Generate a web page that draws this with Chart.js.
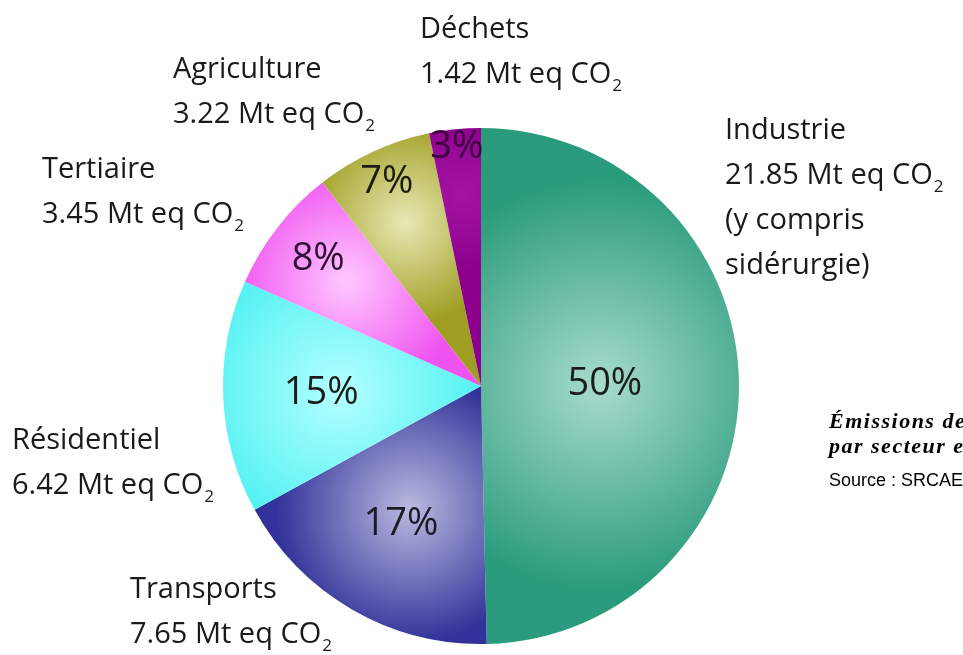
<!DOCTYPE html>
<html><head><meta charset="utf-8">
<style>html,body{margin:0;padding:0;background:#fff}#wrap{width:963px;height:655px;position:relative;overflow:hidden}</style>
</head><body><div id="wrap"><canvas id="c" width="963" height="655"></canvas></div>
<script src="https://cdn.jsdelivr.net/npm/chart.js@4.4.1/dist/chart.umd.min.js"></script>
<script>
// ---- data ----
const categories = ['Industrie', 'Transports', 'Résidentiel', 'Tertiaire', 'Agriculture', 'Déchets'];
const emissions = [21.85, 7.65, 6.42, 3.45, 3.22, 1.42];
const percentLabels = ['50%', '17%', '15%', '8%', '7%', '3%'];
const valueLabels = ['21.85', '7.65', '6.42', '3.45', '3.22', '1.42'];
const unitText = 'Mt eq CO';
const unitSub = '2';
const extraLines = [['(y compris', 'sidérurgie)'], [], [], [], [], []];
const captionLines = ['Émissions de', 'par secteur e'];
const sourceText = 'Source : SRCAE';

// ---- styles ----
const edgeColors  = ['#2a9b7c', '#32329a', '#40eff0', '#f052f0', '#9e9e22', '#8c008c'];
const lightColors = ['#a8dccc', '#babae0', '#b4ffff', '#ffc8ff', '#e8e8b4', '#a414a4'];
const highlightFrac = [0.46, 0.55, 0.55, 0.66, 0.70, 0.75];
const gradRadiusFrac = [0.80, 0.52, 0.66, 0.45, 0.40, 0.30];
const pctRadiusFrac = [0.48, 0.62, 0.62, 0.80, 0.87, 0.93];
const pctColors = ['#1c1c1c', '#1c1c28', '#1c1c1c', '#2e0f36', '#1c1c10', '#3c003c'];
// outside label anchors (left x, first baseline)
const labelPos = [[725, 139], [130, 598], [12, 449], [42, 178], [173, 78], [420, 38]];
const lineGap = 45;

const total = emissions.reduce((a, b) => a + b, 0);

function sliceGradient(c) {
  const i = c.dataIndex;
  const chart = c.chart;
  const ca = chart.chartArea;
  if (!ca || i === undefined) return edgeColors[i] || '#ccc';
  const cx = (ca.left + ca.right) / 2, cy = (ca.top + ca.bottom) / 2;
  const r = Math.min(ca.width, ca.height) / 2;
  let before = 0;
  for (let k = 0; k < i; k++) before += emissions[k];
  const a0 = -Math.PI / 2 + before / total * 2 * Math.PI;
  const a1 = a0 + emissions[i] / total * 2 * Math.PI;
  const mid = (a0 + a1) / 2;
  const hx = cx + Math.cos(mid) * r * highlightFrac[i];
  const hy = cy + Math.sin(mid) * r * highlightFrac[i];
  const g = chart.ctx.createRadialGradient(hx, hy, 0, hx, hy, r * gradRadiusFrac[i]);
  g.addColorStop(0, lightColors[i]);
  g.addColorStop(1, edgeColors[i]);
  return g;
}

const labelPlugin = {
  id: 'labels',
  afterDraw(chart) {
    const ctx = chart.ctx;
    const meta = chart.getDatasetMeta(0);
    ctx.save();
    // percentages
    ctx.textAlign = 'center';
    ctx.textBaseline = 'middle';
    ctx.font = '38px "Open Sans", sans-serif';
    meta.data.forEach((arc, i) => {
      const mid = (arc.startAngle + arc.endAngle) / 2;
      const d = arc.outerRadius * pctRadiusFrac[i];
      ctx.fillStyle = pctColors[i];
      ctx.fillText(percentLabels[i], arc.x + Math.cos(mid) * d, arc.y + Math.sin(mid) * d);
    });
    // outside labels
    ctx.textAlign = 'left';
    ctx.textBaseline = 'alphabetic';
    ctx.fillStyle = '#1a1a1a';
    categories.forEach((name, i) => {
      const [x, y] = labelPos[i];
      ctx.font = '29px "Open Sans", sans-serif';
      ctx.fillText(name, x, y);
      const line2 = valueLabels[i] + ' ' + unitText;
      ctx.fillText(line2, x, y + lineGap);
      const w = ctx.measureText(line2).width;
      ctx.font = '17px "Open Sans", sans-serif';
      ctx.fillText(unitSub, x + w + 1, y + lineGap + 8);
      ctx.font = '29px "Open Sans", sans-serif';
      extraLines[i].forEach((t, k) => ctx.fillText(t, x, y + lineGap * (2 + k)));
    });
    // caption
    ctx.fillStyle = '#000';
    ctx.font = 'italic bold 22px "Liberation Serif", serif';
    ctx.letterSpacing = '1.5px';
    ctx.fillText(captionLines[0], 829, 428);
    ctx.fillText(captionLines[1], 829, 453);
    ctx.letterSpacing = '0px';
    ctx.font = '18px "Liberation Sans", sans-serif';
    ctx.fillText(sourceText, 829, 486);
    ctx.restore();
  }
};

new Chart(document.getElementById('c'), {
  type: 'pie',
  data: {
    labels: categories,
    datasets: [{
      data: emissions,
      backgroundColor: sliceGradient,
      borderWidth: 0
    }]
  },
  options: {
    responsive: false,
    animation: false,
    layout: { padding: { top: 128, bottom: 11, left: 0, right: 1 } },
    plugins: { legend: { display: false }, tooltip: { enabled: false } }
  },
  plugins: [labelPlugin]
});
</script>
</body></html>
